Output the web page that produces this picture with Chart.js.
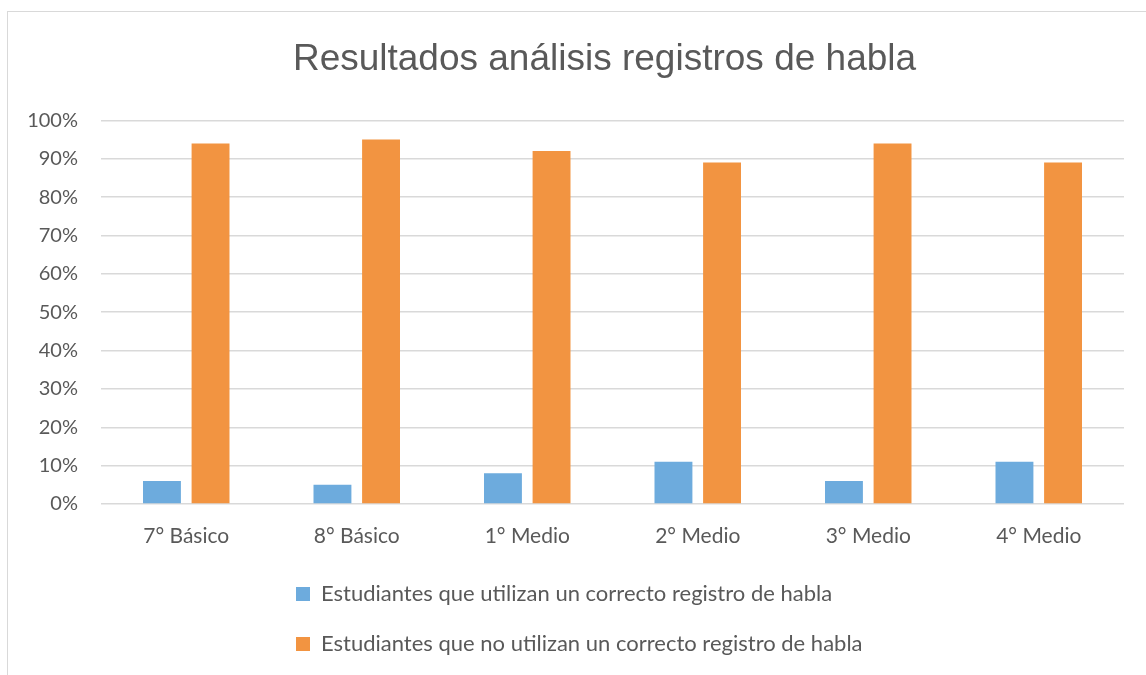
<!DOCTYPE html>
<html>
<head>
<meta charset="utf-8">
<script src="https://cdn.jsdelivr.net/npm/chart.js@4"></script>
<style>
  html, body { margin: 0; padding: 0; background: #ffffff; }
  #wrap { position: relative; width: 1146px; height: 675px; overflow: hidden; }
  #c { display: block; }
  #frame { position: absolute; left: 7px; top: 11px; width: 1200px; height: 700px;
           border-left: 1px solid #d9d9d9; border-top: 1px solid #d9d9d9; pointer-events: none; }
</style>
</head>
<body>
<div id="wrap">
  <canvas id="c" width="1146" height="675"></canvas>
  <div id="frame"></div>
</div>
<script>
const title = 'Resultados análisis registros de habla';
const categories = ['7° Básico', '8° Básico', '1° Medio', '2° Medio', '3° Medio', '4° Medio'];
const seriesNames = [
  'Estudiantes que utilizan un correcto registro de habla',
  'Estudiantes que no utilizan un correcto registro de habla'
];
const correctValues = [6, 5, 8, 11, 6, 11];
const incorrectValues = [94, 95, 92, 89, 94, 89];
const yTicks = [0, 10, 20, 30, 40, 50, 60, 70, 80, 90, 100];

const TEXT = '#595959';
const LEGEND_LEFT = 268;
const LEGEND_DOWN = 4;
const TITLE_SHIFT = -8;

const placeBlocks = {
  id: 'placeBlocks',
  afterLayout(chart) {
    const lg = chart.legend;
    if (lg) {
      const w = lg.right - lg.left;
      lg.left = LEGEND_LEFT;
      lg.right = LEGEND_LEFT + w;
      lg.top += LEGEND_DOWN;
      lg.bottom += LEGEND_DOWN;
    }
    const tb = chart.titleBlock;
    if (tb) {
      tb.left += TITLE_SHIFT;
      tb.right += TITLE_SHIFT;
    }
  }
};

new Chart(document.getElementById('c'), {
  type: 'bar',
  data: {
    labels: categories,
    datasets: [
      { label: seriesNames[0], data: correctValues, backgroundColor: '#6DABDD',
        categoryPercentage: 0.57, barPercentage: 0.78 },
      { label: seriesNames[1], data: incorrectValues, backgroundColor: '#F29441',
        categoryPercentage: 0.57, barPercentage: 0.78 }
    ]
  },
  options: {
    responsive: false,
    animation: false,
    layout: { padding: { top: 10, left: 25, right: 22, bottom: 14 } },
    plugins: {
      title: {
        display: true, text: title, fullSize: false, color: TEXT,
        font: { family: '"Liberation Sans", Arial, sans-serif', size: 37, weight: 'normal' },
        padding: { top: 28, bottom: 38 }
      },
      legend: {
        position: 'bottom', align: 'start', fullSize: false,
        labels: {
          color: TEXT, boxWidth: 14, boxHeight: 14, padding: 28,
          font: { family: 'Lato, "Open Sans", sans-serif', size: 22 }
        }
      },
      tooltip: { enabled: false }
    },
    scales: {
      x: {
        grid: { display: false, drawTicks: false },
        border: { display: false },
        ticks: { color: TEXT, padding: 20, font: { family: 'Lato, "Open Sans", sans-serif', size: 21 } },
        afterFit(scale) { scale.height = 47; }
      },
      y: {
        min: 0, max: 100,
        afterBuildTicks(scale) { scale.ticks = yTicks.map(v => ({ value: v })); },
        grid: { color: '#d9d9d9', lineWidth: 1.5, drawTicks: false },
        border: { display: false },
        ticks: { color: TEXT, padding: 23, callback: v => v + '%',
                 font: { family: 'Lato, "Open Sans", sans-serif', size: 20 } },
        afterFit(scale) { scale.width = 76; }
      }
    }
  },
  plugins: [placeBlocks]
});
</script>
</body>
</html>
